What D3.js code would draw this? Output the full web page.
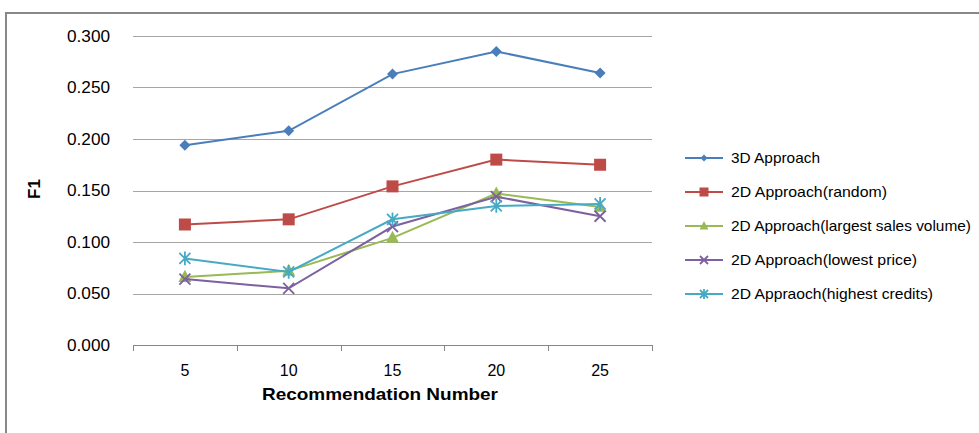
<!DOCTYPE html>
<html>
<head>
<meta charset="utf-8">
<script src="https://cdn.jsdelivr.net/npm/d3@7"></script>
<style>
  html, body { margin: 0; padding: 0; background: #fff; }
  svg { display: block; }
  text { font-family: "Liberation Sans", "DejaVu Sans", sans-serif; fill: #000; }
</style>
</head>
<body>
<svg id="chart" width="979" height="433"></svg>
<script>
const categories = ["5", "10", "15", "20", "25"];
const yTicks = [0, 0.05, 0.10, 0.15, 0.20, 0.25, 0.30];

const seriesNames = [
  "3D Approach",
  "2D Approach(random)",
  "2D Approach(largest sales volume)",
  "2D Approach(lowest price)",
  "2D Appraoch(highest credits)"
];
const s3d       = [0.194, 0.208, 0.263, 0.285, 0.264];
const sRandom   = [0.117, 0.122, 0.154, 0.180, 0.175];
const sSales    = [0.066, 0.072, 0.104, 0.147, 0.134];
const sPrice    = [0.064, 0.055, 0.115, 0.144, 0.125];
const sCredits  = [0.084, 0.071, 0.122, 0.135, 0.137];
const seriesColors = ["#4a7ebb", "#be4b48", "#98b954", "#7d60a0", "#46aac5"];
const seriesMarkers = ["diamond", "square", "triangle", "x", "star"];
const seriesValues = [s3d, sRandom, sSales, sPrice, sCredits];

const svg = d3.select("#chart");

// outer frame
svg.append("path")
  .attr("d", "M6,433 V13 H979")
  .attr("fill", "none").attr("stroke", "#888").attr("stroke-width", 2);

const plot = { left: 133, right: 652, top: 36, bottom: 345 };

const x = d3.scaleBand().domain(categories).range([plot.left, plot.right]);
const y = d3.scaleLinear().domain([0, 0.3]).range([plot.bottom, plot.top]);

// horizontal gridlines
svg.append("g").selectAll("line").data(yTicks.filter(d => d > 0)).join("line")
  .attr("x1", plot.left).attr("x2", plot.right)
  .attr("y1", d => Math.round(y(d)) + 0.5).attr("y2", d => Math.round(y(d)) + 0.5)
  .attr("stroke", "#a6a6a6").attr("stroke-width", 1.2);

// y axis labels
svg.append("g").selectAll("text").data(yTicks).join("text")
  .attr("x", 110).attr("y", d => y(d)).attr("dy", "0.35em")
  .attr("text-anchor", "end").attr("font-size", 16)
  .attr("textLength", 43).attr("lengthAdjust", "spacingAndGlyphs")
  .text(d => d3.format(".3f")(d));

// x axis line with tick marks at band boundaries
svg.append("line")
  .attr("x1", plot.left).attr("x2", plot.right)
  .attr("y1", plot.bottom + 0.5).attr("y2", plot.bottom + 0.5)
  .attr("stroke", "#868686").attr("stroke-width", 1);
const boundaries = categories.map(c => x(c)).concat([x.range()[1]]);
svg.append("g").selectAll("line").data(boundaries).join("line")
  .attr("x1", d => Math.round(d) + 0.5).attr("x2", d => Math.round(d) + 0.5)
  .attr("y1", plot.bottom).attr("y2", plot.bottom + 6)
  .attr("stroke", "#868686");

svg.append("g").selectAll("text").data(categories).join("text")
  .attr("x", d => x(d) + x.bandwidth() / 2).attr("y", 370).attr("dy", "0.35em")
  .attr("text-anchor", "middle").attr("font-size", 16)
  .text(d => d);

// axis titles
svg.append("text")
  .attr("x", 380).attr("y", 394).attr("dy", "0.35em")
  .attr("text-anchor", "middle").attr("font-size", 17).attr("font-weight", "bold")
  .attr("textLength", 236).attr("lengthAdjust", "spacingAndGlyphs")
  .text("Recommendation Number");
svg.append("text")
  .attr("transform", "translate(34,189) rotate(-90)")
  .attr("dy", "0.35em")
  .attr("text-anchor", "middle").attr("font-size", 17).attr("font-weight", "bold")
  .text("F1");

function marker(g, type, color, cx, cy, s) {
  if (type === "diamond") {
    g.append("path").attr("d", `M${cx},${cy - s} L${cx + s},${cy} L${cx},${cy + s} L${cx - s},${cy} Z`)
      .attr("fill", color);
  } else if (type === "square") {
    g.append("rect").attr("x", cx - s).attr("y", cy - s).attr("width", 2 * s).attr("height", 2 * s)
      .attr("fill", color);
  } else if (type === "triangle") {
    g.append("path").attr("d", `M${cx},${cy - s * 1.1} L${cx + s},${cy + s * 0.75} L${cx - s},${cy + s * 0.75} Z`)
      .attr("fill", color);
  } else if (type === "x") {
    g.append("path").attr("d", `M${cx - s},${cy - s} L${cx + s},${cy + s} M${cx - s},${cy + s} L${cx + s},${cy - s}`)
      .attr("stroke", color).attr("stroke-width", 1.8);
  } else if (type === "star") {
    g.append("path").attr("d", `M${cx - s},${cy - s} L${cx + s},${cy + s} M${cx - s},${cy + s} L${cx + s},${cy - s} M${cx},${cy - s * 1.25} L${cx},${cy + s * 1.25}`)
      .attr("stroke", color).attr("stroke-width", 1.8);
  }
}

const markerSize = [5.5, 6, 6.5, 5.5, 5.5];
const line = d3.line()
  .x((d, i) => x(categories[i]) + x.bandwidth() / 2)
  .y(d => y(d));

seriesValues.forEach((vals, k) => {
  const g = svg.append("g");
  g.append("path").datum(vals).attr("d", line)
    .attr("fill", "none").attr("stroke", seriesColors[k]).attr("stroke-width", 2);
  vals.forEach((v, i) => {
    marker(g, seriesMarkers[k], seriesColors[k], x(categories[i]) + x.bandwidth() / 2, y(v), markerSize[k]);
  });
});

// legend
const legendY = d3.scalePoint().domain(seriesNames).range([158, 294]);
const legendWidths = [89, 156, 240, 186, 202];
seriesNames.forEach((name, k) => {
  const g = svg.append("g");
  const ly = legendY(name);
  g.append("line").attr("x1", 685).attr("x2", 723).attr("y1", ly).attr("y2", ly)
    .attr("stroke", seriesColors[k]).attr("stroke-width", 2);
  marker(g, seriesMarkers[k], seriesColors[k], 704, ly, [3.5, 4.5, 4.5, 4, 4][k]);
  g.append("text").attr("x", 731).attr("y", ly).attr("dy", "0.35em")
    .attr("font-size", 15)
    .attr("textLength", legendWidths[k]).attr("lengthAdjust", "spacingAndGlyphs")
    .text(name);
});
</script>
</body>
</html>
